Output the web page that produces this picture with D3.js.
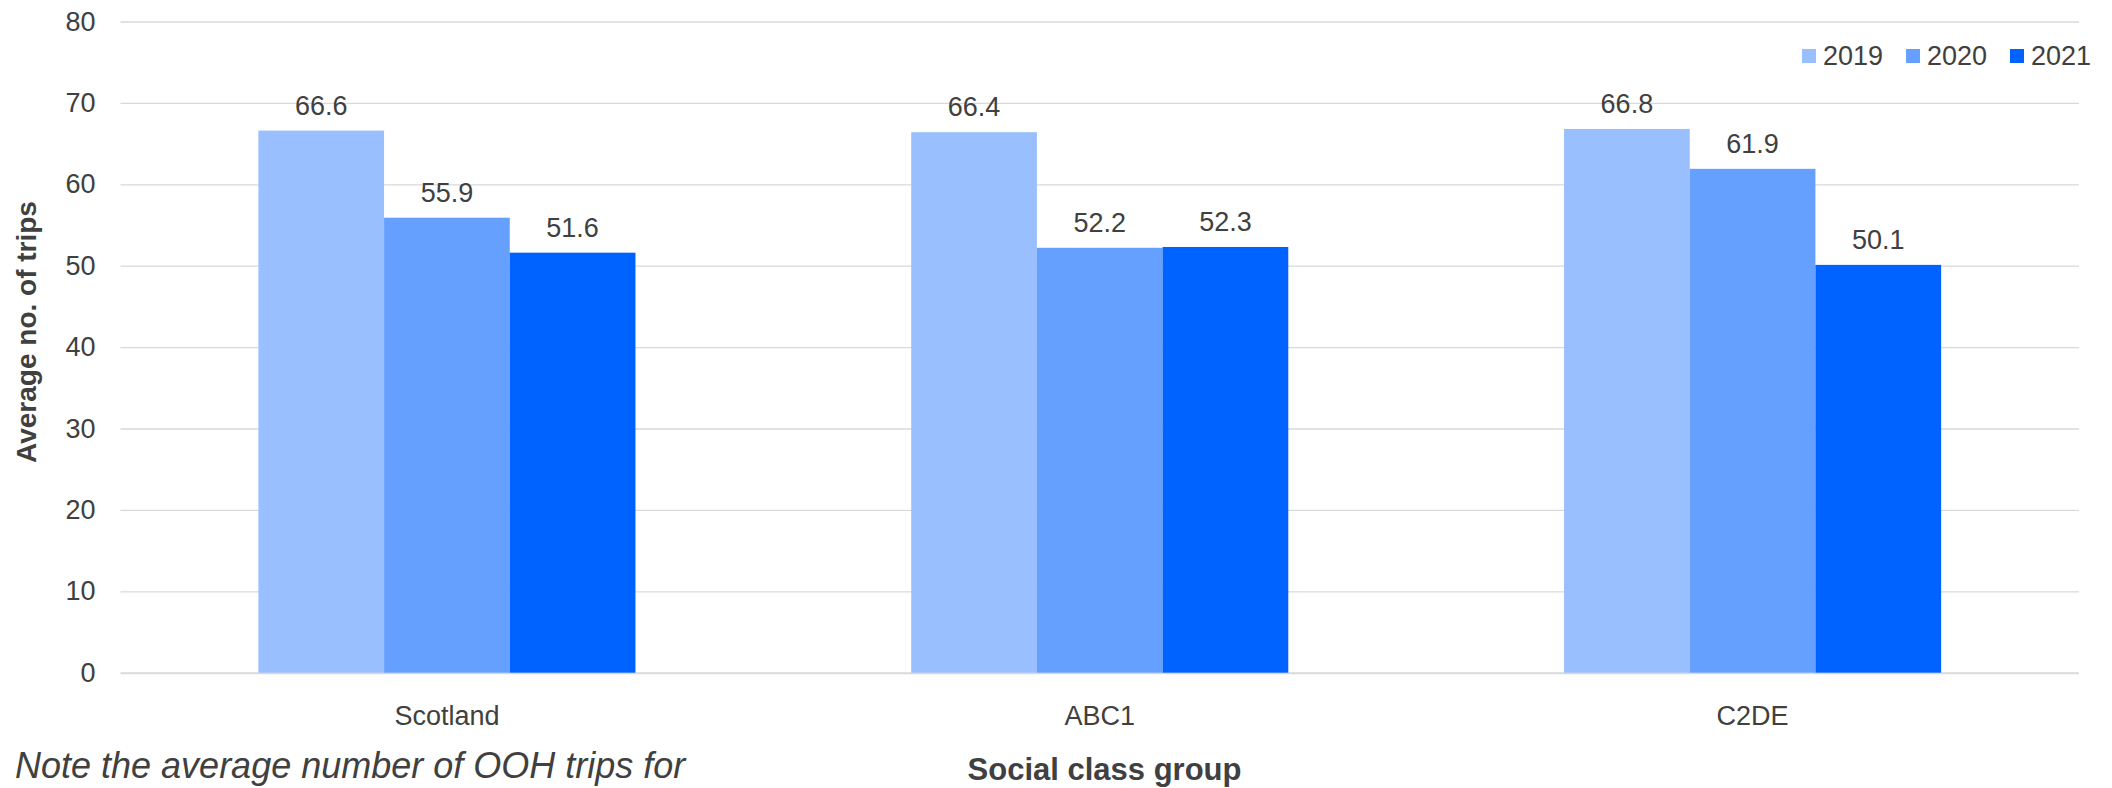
<!DOCTYPE html>
<html>
<head>
<meta charset="utf-8">
<script src="https://cdn.jsdelivr.net/npm/d3@7"></script>
<style>
  html, body { margin: 0; padding: 0; background: #ffffff; }
  svg { display: block; font-family: "Liberation Sans", Arial, sans-serif; }
</style>
</head>
<body>
<svg id="chart" width="2112" height="788"></svg>
<script>
// Average number of out-of-home trips by social class group, 2019–2021
const categories = ["Scotland", "ABC1", "C2DE"];
const years = ["2019", "2020", "2021"];
const values2019 = [66.6, 66.4, 66.8];
const values2020 = [55.9, 52.2, 61.9];
const values2021 = [51.6, 52.3, 50.1];
const yTicks = [0, 10, 20, 30, 40, 50, 60, 70, 80];
const seriesColors = ["#9ABFFE", "#66A0FF", "#0062FF"];

const seriesByYear = { "2019": values2019, "2020": values2020, "2021": values2021 };
const rows = categories.map((c, i) => ({
  category: c,
  bars: years.map(y => ({ year: y, value: seriesByYear[y][i] }))
}));

const svg = d3.select("#chart");
const textColor = "#404040";
const gridColor = "#D9D9D9";

const plot = { left: 120.5, right: 2079, top: 21.5, bottom: 672.7 };

const x0 = d3.scaleBand().domain(categories).range([plot.left, plot.right]).padding(0);
const x1 = d3.scaleBand().domain(years).range([0, x0.bandwidth()])
  .paddingInner(0).paddingOuter(1.097);
const y = d3.scaleLinear().domain([0, 80]).range([plot.bottom, plot.top]);
const color = d3.scaleOrdinal().domain(years).range(seriesColors);

// Gridlines and value axis
const yAxis = svg.append("g")
  .attr("transform", `translate(${plot.left},0)`)
  .call(d3.axisLeft(y).tickValues(yTicks).tickSize(-(plot.right - plot.left)).tickPadding(25));
yAxis.select(".domain").remove();
yAxis.selectAll(".tick line")
  .attr("stroke", gridColor)
  .attr("stroke-width", d => d === 0 ? 2 : 1.3);
yAxis.selectAll(".tick text")
  .attr("fill", textColor)
  .attr("font-size", 27)
  .attr("font-family", "Liberation Sans, Arial, sans-serif");

// Bars
const groups = svg.append("g").selectAll("g")
  .data(rows)
  .join("g")
  .attr("transform", d => `translate(${x0(d.category)},0)`);

groups.selectAll("rect")
  .data(d => d.bars)
  .join("rect")
  .attr("x", d => x1(d.year))
  .attr("y", d => y(d.value))
  .attr("width", x1.bandwidth())
  .attr("height", d => y(0) - y(d.value))
  .attr("fill", d => color(d.year));

// Value labels
groups.selectAll("text.value")
  .data(d => d.bars)
  .join("text")
  .attr("class", "value")
  .attr("x", d => x1(d.year) + x1.bandwidth() / 2)
  .attr("y", d => y(d.value) - 16)
  .attr("text-anchor", "middle")
  .attr("font-size", 27)
  .attr("fill", textColor)
  .text(d => d.value.toFixed(1));

// Category axis
const xAxis = svg.append("g")
  .attr("transform", `translate(0,${plot.bottom})`)
  .call(d3.axisBottom(x0).tickSize(0).tickPadding(33));
xAxis.select(".domain").remove();
xAxis.selectAll(".tick text")
  .attr("fill", textColor)
  .attr("font-size", 27)
  .attr("font-family", "Liberation Sans, Arial, sans-serif");

// Axis titles
svg.append("text")
  .attr("transform", "translate(36,332) rotate(-90)")
  .attr("text-anchor", "middle")
  .attr("font-size", 28)
  .attr("font-weight", "bold")
  .attr("fill", textColor)
  .text("Average no. of trips");

svg.append("text")
  .attr("x", 1104.5)
  .attr("y", 780)
  .attr("text-anchor", "middle")
  .attr("font-size", 31)
  .attr("font-weight", "bold")
  .attr("fill", textColor)
  .text("Social class group");

// Footnote
svg.append("text")
  .attr("x", 15)
  .attr("y", 778)
  .attr("font-size", 36)
  .attr("font-style", "italic")
  .attr("fill", textColor)
  .text("Note the average number of OOH trips for");

// Legend
const legendX = [1802, 1906, 2010];
const legend = svg.append("g").selectAll("g")
  .data(years)
  .join("g")
  .attr("transform", (d, i) => `translate(${legendX[i]},49)`);
legend.append("rect")
  .attr("width", 14)
  .attr("height", 14)
  .attr("fill", d => color(d));
legend.append("text")
  .attr("x", 21)
  .attr("y", 16)
  .attr("font-size", 27)
  .attr("fill", textColor)
  .text(d => d);
</script>
</body>
</html>
